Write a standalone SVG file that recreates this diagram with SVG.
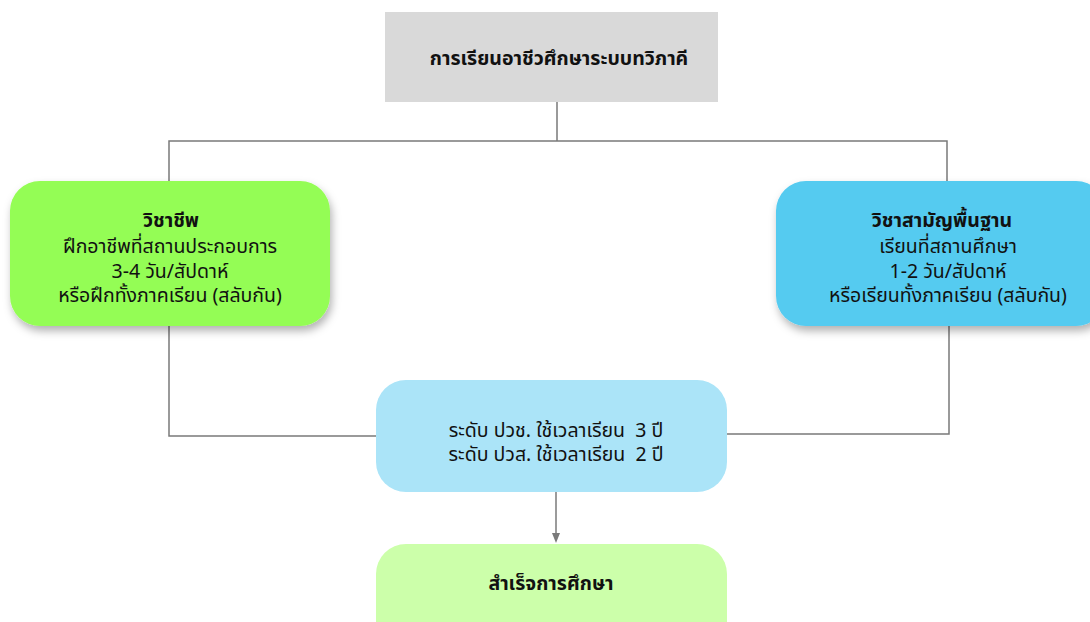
<svg xmlns="http://www.w3.org/2000/svg" width="1090" height="622" viewBox="0 0 1090 622">
<style>
text{font-family:"Noto Sans","Noto Sans Thai","DejaVu Sans",sans-serif;font-size:19.5px;fill:#111;text-anchor:middle}
.b{font-weight:bold}
.ln{stroke:#7a7a7a;stroke-width:1.5;fill:none}
</style>
<defs>
<filter id="sh" x="-10%" y="-10%" width="125%" height="135%">
<feDropShadow dx="2" dy="5" stdDeviation="4" flood-color="#000" flood-opacity="0.3"/>
</filter>
<marker id="ar" markerWidth="10" markerHeight="10" refX="5" refY="5" orient="auto" markerUnits="userSpaceOnUse">
<path d="M0,1 L10,5 L0,9 Z" fill="#7a7a7a"/>
</marker>
</defs>
<rect width="1090" height="622" fill="#fff"/>
<g id="connectors">
<path class="ln" d="M557,102 V141 M169,181 V141 H947 V181"/>
<path class="ln" d="M169,326 V436 H376"/>
<path class="ln" d="M949,326 V434 H727"/>
<path class="ln" d="M556,492 V538" marker-end="url(#ar)"/>
</g>
<g id="title">
<rect x="385" y="12" width="333" height="90" fill="#d9d9d9"/>
<text x="559" y="65" class="b" font-size="20.7">การเรียนอาชีวศึกษาระบบทวิภาคี</text>
</g>
<g id="vocational">
<rect x="10" y="181" width="320" height="145" rx="30" fill="#94fd54" filter="url(#sh)"/>
<text x="171" y="227" class="b">วิชาชีพ</text>
<text x="170" y="253">ฝึกอาชีพที่สถานประกอบการ</text>
<text x="170" y="278">3-4 วัน/สัปดาห์</text>
<text x="170" y="302">หรือฝึกทั้งภาคเรียน (สลับกัน)</text>
</g>
<g id="general">
<rect x="776" y="181" width="330" height="145" rx="30" fill="#55cbf0" filter="url(#sh)"/>
<text x="942" y="227" class="b">วิชาสามัญพื้นฐาน</text>
<text x="948" y="253">เรียนที่สถานศึกษา</text>
<text x="948" y="278">1-2 วัน/สัปดาห์</text>
<text x="948" y="302">หรือเรียนทั้งภาคเรียน (สลับกัน)</text>
</g>
<g id="duration">
<rect x="376" y="380" width="351" height="112" rx="30" fill="#abe4f8"/>
<text x="556" y="437" xml:space="preserve">ระดับ ปวช. ใช้เวลาเรียน  3 ปี</text>
<text x="556" y="461" xml:space="preserve">ระดับ ปวส. ใช้เวลาเรียน  2 ปี</text>
</g>
<g id="graduate">
<rect x="376" y="544" width="351" height="112" rx="30" fill="#ccffaa"/>
<text x="551" y="590" class="b">สำเร็จการศึกษา</text>
</g>
</svg>
